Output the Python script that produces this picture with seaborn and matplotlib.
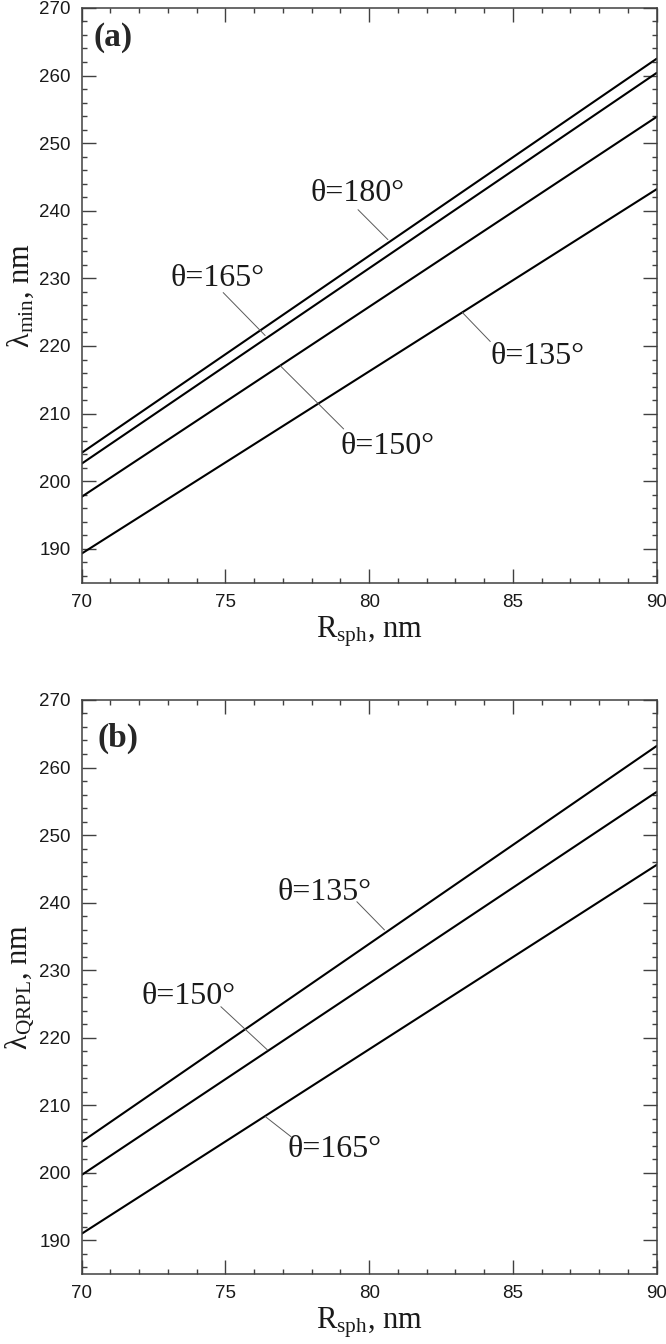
import numpy as np
import pandas as pd
import matplotlib
matplotlib.use('Agg')
import matplotlib.pyplot as plt
import seaborn as sns
from matplotlib.ticker import MultipleLocator

# Radius of the sphere, nm (both ends of the computed range)
r_sph = [70, 90]

# Panel (a): lambda_min, nm, for each apex angle
lam_min_180 = [204.2, 262.5]
lam_min_165 = [202.6, 260.4]
lam_min_150 = [197.7, 253.9]
lam_min_135 = [189.3, 243.2]

# Panel (b): lambda_QRPL, nm
lam_qrpl_135 = [204.6, 263.2]
lam_qrpl_150 = [199.7, 256.4]
lam_qrpl_165 = [191.0, 245.6]

labels_a = ['θ=180°', 'θ=165°', 'θ=150°', 'θ=135°']
labels_b = ['θ=135°', 'θ=150°', 'θ=165°']

sns.set_theme(style='ticks')
plt.rcParams['font.family'] = ['Liberation Sans', 'DejaVu Sans']
plt.rcParams['mathtext.fontset'] = 'custom'
plt.rcParams['mathtext.rm'] = 'Liberation Serif'
plt.rcParams['mathtext.it'] = 'Liberation Serif:italic'

SERIF = ['Liberation Serif', 'DejaVu Serif']


def make_frame(series, names):
    rows = []
    for vals, name in zip(series, names):
        for r, v in zip(r_sph, vals):
            rows.append({'R': r, 'lam': v, 'theta': name})
    return pd.DataFrame(rows)


def style_axes(ax, ylabel):
    ax.set_xlim(70, 90)
    ax.set_ylim(185, 270)
    ax.xaxis.set_major_locator(MultipleLocator(5))
    ax.xaxis.set_minor_locator(MultipleLocator(1))
    ax.yaxis.set_major_locator(MultipleLocator(10))
    ax.yaxis.set_minor_locator(MultipleLocator(2))
    ax.tick_params(which='both', direction='in', top=True, right=True,
                   width=1.0, color='0.25')
    ax.tick_params(which='major', length=10, labelsize=13.5, pad=8,
                   labelcolor='0.1')
    ax.tick_params(which='minor', length=3.5)
    for s in ax.spines.values():
        s.set_linewidth(1.1)
        s.set_color('0.25')
    ax.set_xlabel('R$_{\\mathrm{sph}}$, nm', family=SERIF, fontsize=22,
                  color='0.1')
    ax.set_ylabel(ylabel, family=SERIF, fontsize=22, color='0.1')
    ax.xaxis.set_label_coords(0.5, -0.055)
    ax.yaxis.set_label_coords(-0.08, 0.5)
    if ax.get_legend() is not None:
        ax.get_legend().remove()


def leader(ax, text_xy, p0, p1, label):
    ax.plot([p0[0], p1[0]], [p0[1], p1[1]], color='0.35', lw=0.7)
    ax.text(text_xy[0], text_xy[1], label, family=SERIF, fontsize=23,
            ha='center', va='center', color='0.1')


fig = plt.figure(figsize=(6.66, 13.44), dpi=100)
ax_a = fig.add_axes([0.1227, 0.5665, 0.8634, 0.4276])
ax_b = fig.add_axes([0.1227, 0.0519, 0.8634, 0.4273])

df_a = make_frame([lam_min_180, lam_min_165, lam_min_150, lam_min_135], labels_a)
sns.lineplot(data=df_a, x='R', y='lam', hue='theta', units='theta',
             estimator=None, palette=['black'] * 4, lw=1.5, ax=ax_a)
style_axes(ax_a, 'λ$_{\\mathrm{min}}$, nm')
ax_a.text(0.02, 0.975, '(a)', transform=ax_a.transAxes, family=SERIF,
          fontsize=24, fontweight='bold', ha='left', va='top')
leader(ax_a, (79.61, 242.6), (79.61, 240.16), (80.65, 235.73), labels_a[0])
leader(ax_a, (74.71, 230.0), (74.92, 227.9), (76.38, 221.55), labels_a[1])
leader(ax_a, (80.65, 205.1), (79.11, 207.73), (76.90, 217.1), labels_a[2])
leader(ax_a, (85.84, 218.4), (84.21, 220.66), (83.24, 224.95), labels_a[3])

df_b = make_frame([lam_qrpl_135, lam_qrpl_150, lam_qrpl_165], labels_b)
sns.lineplot(data=df_b, x='R', y='lam', hue='theta', units='theta',
             estimator=None, palette=['black'] * 3, lw=1.5, ax=ax_b)
style_axes(ax_b, 'λ$_{\\mathrm{QRPL}}$, nm')
ax_b.text(0.028, 0.96, '(b)', transform=ax_b.transAxes, family=SERIF,
          fontsize=24, fontweight='bold', ha='left', va='top')
leader(ax_b, (78.43, 241.5), (79.57, 240.14), (80.53, 235.96), labels_b[0])
leader(ax_b, (73.70, 226.1), (74.84, 224.6), (76.46, 218.2), labels_b[1])
leader(ax_b, (78.81, 203.4), (76.39, 208.32), (77.28, 205.36), labels_b[2])

fig.savefig('out.png', dpi=100)
